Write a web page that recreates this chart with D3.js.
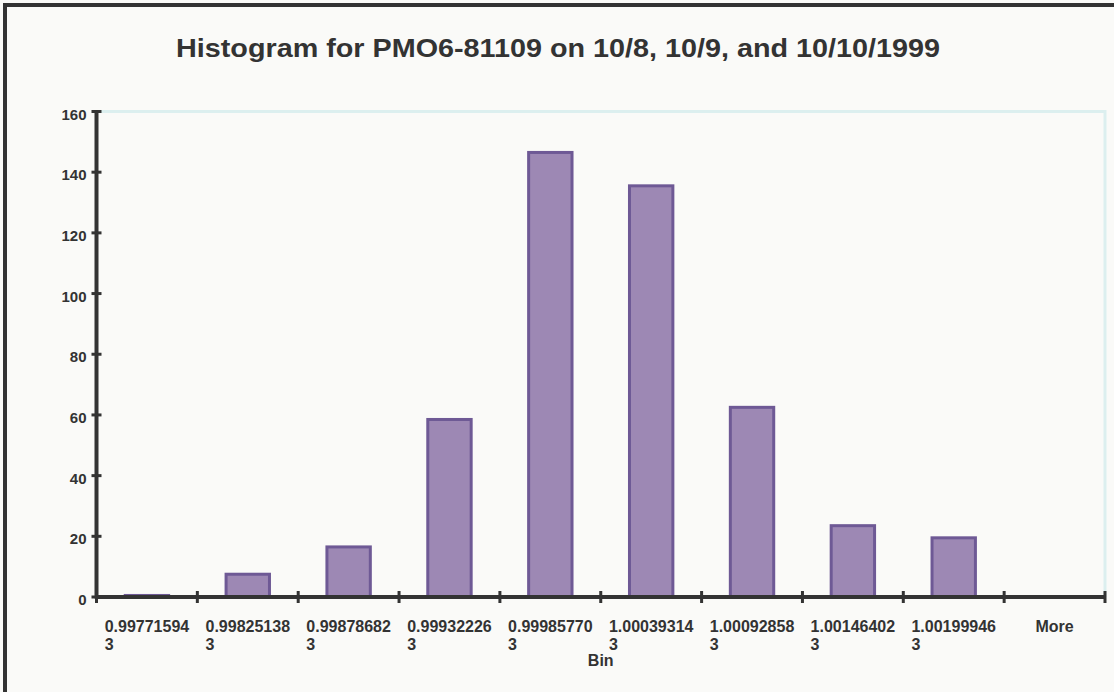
<!DOCTYPE html>
<html>
<head>
<meta charset="utf-8">
<script src="https://cdn.jsdelivr.net/npm/d3@7"></script>
<style>
  body { margin: 0; background: #fafaf8; }
  text { font-family: "Liberation Sans", Arial, sans-serif; fill: #333; }
</style>
</head>
<body>
<div id="chart"></div>
<script>
// histogram bins and counts
var bins = ["0.99771594\n3", "0.99825138\n3", "0.99878682\n3", "0.99932226\n3", "0.99985770\n3",
            "1.00039314\n3", "1.00092858\n3", "1.00146402\n3", "1.00199946\n3", "More"];
var counts = [1, 8, 17, 59, 147, 136, 63, 24, 20, 0];
var yTicks = [0, 20, 40, 60, 80, 100, 120, 140, 160];

var W = 1114, H = 692;
var margin = { top: 111.5, right: 9, bottom: 95, left: 96.5 },
    width = W - margin.left - margin.right,
    height = H - margin.top - margin.bottom;

var svg = d3.select('#chart')
  .append('svg')
  .attr('width', W)
  .attr('height', H);

svg.append('rect')
  .attr('width', W).attr('height', H)
  .attr('fill', '#fafaf8');

// outer frame (only left/top visible)
svg.append('rect')
  .attr('x', 5).attr('y', 5)
  .attr('width', W + 20).attr('height', H + 20)
  .attr('fill', 'none')
  .attr('stroke', '#333')
  .attr('stroke-width', 4);

svg.append('text')
  .attr('x', 176).attr('y', 57)
  .attr('font-size', 26)
  .attr('font-weight', 'bold')
  .attr('textLength', 764)
  .attr('lengthAdjust', 'spacingAndGlyphs')
  .text('Histogram for PMO6-81109 on 10/8, 10/9, and 10/10/1999');

var g = svg.append('g')
  .attr('transform', 'translate(' + margin.left + ',' + margin.top + ')');

var x = d3.scaleBand()
  .domain(d3.range(bins.length))
  .range([0, width])
  .paddingInner(0.54)
  .paddingOuter(0.27);

var y = d3.scaleLinear()
  .domain([0, 160])
  .range([height, 0]);

// plot area frame (light)
g.append('path')
  .attr('d', 'M0,0H' + width + 'V' + height)
  .attr('fill', 'none')
  .attr('stroke', '#dcefef')
  .attr('stroke-width', 3);

g.selectAll('.bar')
  .data(counts)
  .enter()
  .append('rect')
  .attr('class', 'bar')
  .attr('x', (d, i) => x(i) + 1.5)
  .attr('y', d => y(d) + 1.5)
  .attr('width', x.bandwidth() - 3)
  .attr('height', d => Math.max(0, height - y(d) - 1.5))
  .attr('fill', '#9d88b4')
  .attr('stroke', '#6e5995')
  .attr('stroke-width', 3)
  .style('display', d => d > 0 ? null : 'none');

// y axis
var yAxis = g.append('g')
  .call(d3.axisLeft(y).tickValues(yTicks).tickSize(0).tickPadding(10));
yAxis.select('.domain').remove();
yAxis.selectAll('text')
  .attr('font-size', 15)
  .attr('font-weight', 'bold')
  .attr('dy', '0.5em');
g.append('line')
  .attr('x1', 0).attr('x2', 0)
  .attr('y1', -1.5).attr('y2', height + 1.5)
  .attr('stroke', '#333').attr('stroke-width', 4);
g.selectAll('.ytick')
  .data(yTicks)
  .enter()
  .append('line')
  .attr('x1', -5).attr('x2', 5)
  .attr('y1', d => y(d)).attr('y2', d => y(d))
  .attr('stroke', '#333').attr('stroke-width', 3);

// x axis
var step = width / bins.length;
g.append('line')
  .attr('x1', 0).attr('x2', width)
  .attr('y1', height).attr('y2', height)
  .attr('stroke', '#333').attr('stroke-width', 4);
g.selectAll('.xtick')
  .data(d3.range(bins.length + 1))
  .enter()
  .append('line')
  .attr('x1', d => d * step).attr('x2', d => d * step)
  .attr('y1', height - 6).attr('y2', height + 6)
  .attr('stroke', '#333').attr('stroke-width', 3);

var labels = g.selectAll('.xlabel')
  .data(bins)
  .enter()
  .append('text')
  .attr('class', 'xlabel')
  .attr('font-size', 16)
  .attr('font-weight', 'bold');

labels.each(function(d, i) {
  var lines = d.split('\n');
  var t = d3.select(this);
  lines.forEach(function(l, k) {
    t.append('tspan')
      .attr('y', height + 35 + k * 18)
      .text(l);
  });
  var w = t.select('tspan').node().getComputedTextLength();
  t.selectAll('tspan').attr('x', x(i) + x.bandwidth() / 2 - w / 2);
});

svg.append('text')
  .attr('x', margin.left + width / 2)
  .attr('y', 666)
  .attr('text-anchor', 'middle')
  .attr('font-size', 16)
  .attr('font-weight', 'bold')
  .text('Bin');
</script>
</body>
</html>
